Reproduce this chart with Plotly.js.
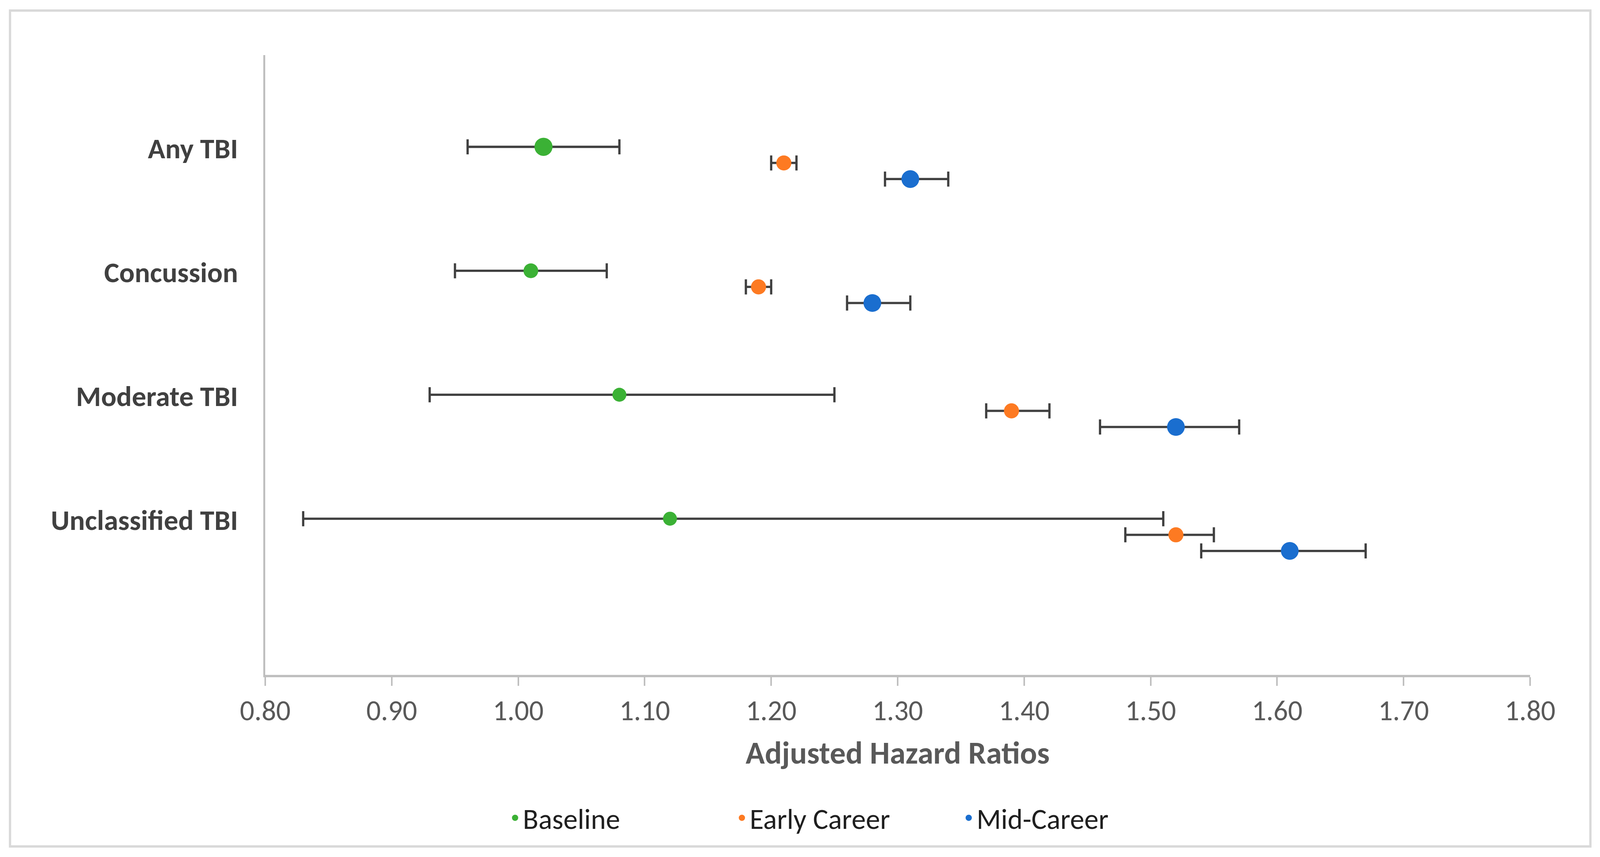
<!DOCTYPE html>
<html>
<head>
<meta charset="utf-8">
<script src="https://cdn.plot.ly/plotly-3.0.1.min.js"></script>
<style>
  html, body { margin: 0; padding: 0; background: #ffffff; overflow: hidden; }
  #chart { position: absolute; left: 0; top: 0; }
</style>
</head>
<body>
<div id="chart"></div>
<script>
// ---- data ----
const categories = ['Any TBI', 'Concussion', 'Moderate TBI', 'Unclassified TBI'];
const rowPos = [4, 3, 2, 1];
const seriesNames = ['Baseline', 'Early Career', 'Mid-Career'];

const baselineHR = [1.02, 1.01, 1.08, 1.12];
const baselineLo = [0.96, 0.95, 0.93, 0.83];
const baselineHi = [1.08, 1.07, 1.25, 1.51];

const earlyHR = [1.21, 1.19, 1.39, 1.52];
const earlyLo = [1.20, 1.18, 1.37, 1.48];
const earlyHi = [1.22, 1.20, 1.42, 1.55];

const midHR = [1.31, 1.28, 1.52, 1.61];
const midLo = [1.29, 1.26, 1.46, 1.54];
const midHi = [1.34, 1.31, 1.57, 1.67];

const xTickVals = [0.8, 0.9, 1.0, 1.1, 1.2, 1.3, 1.4, 1.5, 1.6, 1.7, 1.8];

// ---- geometry (designed for a 4244 x 2193 canvas, scaled to the viewport) ----
const REF_W = 4244, REF_H = 2193;
const W = window.innerWidth || REF_W;
const H = window.innerHeight || REF_H;
const sx = W / REF_W, sy = H / REF_H, s = Math.min(sx, sy);
document.getElementById('chart').style.width = W + 'px';
document.getElementById('chart').style.height = H + 'px';

const L = 704 * sx, R = 4059 * sx, T = 141 * sy, B = 1727 * sy;
const px2x = p => (p * sx - L) / (R - L);
const py2y = p => (B - p * sy) / (B - T);

// ---- styling ----
const FONT = 'Carlito, Calibri, Lato, sans-serif';
const colors = ['#3BB135', '#FD7A22', '#1A6ECF'];
const offsets = [0.26, 0.13, 0];
const sizes = [[48, 39, 37, 37], [40, 40, 40, 40], [47, 47, 47, 47]];

function mkTrace(i, hr, lo, hi) {
  return {
    type: 'scatter',
    mode: 'markers',
    name: seriesNames[i],
    x: hr,
    y: rowPos.map(p => p + offsets[i]),
    marker: { color: colors[i], opacity: 1, size: sizes[i].map(v => v * s), line: { width: 0 } },
    error_x: {
      type: 'data',
      symmetric: false,
      array: hi.map((h, k) => +(h - hr[k]).toFixed(4)),
      arrayminus: lo.map((l, k) => +(hr[k] - l).toFixed(4)),
      color: '#404040',
      thickness: 6 * s,
      width: 20 * s
    },
    hoverinfo: 'skip',
    cliponaxis: false
  };
}

const data = [
  mkTrace(0, baselineHR, baselineLo, baselineHi),
  mkTrace(1, earlyHR, earlyLo, earlyHi),
  mkTrace(2, midHR, midLo, midHi)
];

const layout = {
  width: W,
  height: H,
  margin: { l: L, r: W - R, t: T, b: H - B, pad: 0 },
  paper_bgcolor: '#ffffff',
  plot_bgcolor: '#ffffff',
  font: { family: FONT, color: '#595959' },
  showlegend: true,
  legend: {
    orientation: 'h',
    x: px2x(1346),
    xanchor: 'left',
    y: py2y(2093),
    yanchor: 'middle',
    font: { family: FONT, size: 76 * s, color: '#1f1f1f' },
    entrywidth: 555 * s,
    entrywidthmode: 'pixels',
    bgcolor: 'rgba(0,0,0,0)',
    borderwidth: 0,
    itemclick: false,
    itemdoubleclick: false
  },
  xaxis: {
    range: [0.8, 1.8],
    tickvals: xTickVals,
    ticktext: xTickVals.map(v => v.toFixed(2)),
    showgrid: false,
    zeroline: false,
    showline: true,
    linecolor: '#BFBFBF',
    linewidth: 6 * s,
    ticks: 'outside',
    ticklen: 23 * s,
    tickwidth: 4 * s,
    tickcolor: '#BFBFBF',
    ticklabelstandoff: 40 * s,
    tickfont: { family: FONT, size: 76 * s, color: '#595959' },
    title: {
      text: '<b>Adjusted Hazard Ratios</b>',
      font: { family: FONT, size: 84 * s, color: '#595959' },
      standoff: 38 * s
    },
    automargin: false,
    fixedrange: true
  },
  yaxis: {
    range: [0, 5],
    tickvals: rowPos.map(p => p + 0.25),
    ticktext: categories.map(c => '<b>' + c + '</b>'),
    showgrid: false,
    zeroline: false,
    showline: true,
    linecolor: '#BFBFBF',
    linewidth: 5 * s,
    ticks: 'outside',
    ticklen: 52 * s,
    tickwidth: 1,
    tickcolor: 'rgba(0,0,0,0)',
    ticklabelstandoff: 0,
    tickfont: { family: FONT, size: 76 * s, color: '#404040' },
    automargin: false,
    fixedrange: true
  },
  shapes: [{
    type: 'rect',
    xref: 'paper', yref: 'paper',
    x0: px2x(27), x1: px2x(4219),
    y0: py2y(2166), y1: py2y(27),
    line: { color: '#D9D9D9', width: 6 * s },
    fillcolor: 'rgba(0,0,0,0)',
    layer: 'below'
  }],
  hovermode: false
};

Plotly.newPlot('chart', data, layout, { staticPlot: true, displayModeBar: false });
</script>
</body>
</html>
